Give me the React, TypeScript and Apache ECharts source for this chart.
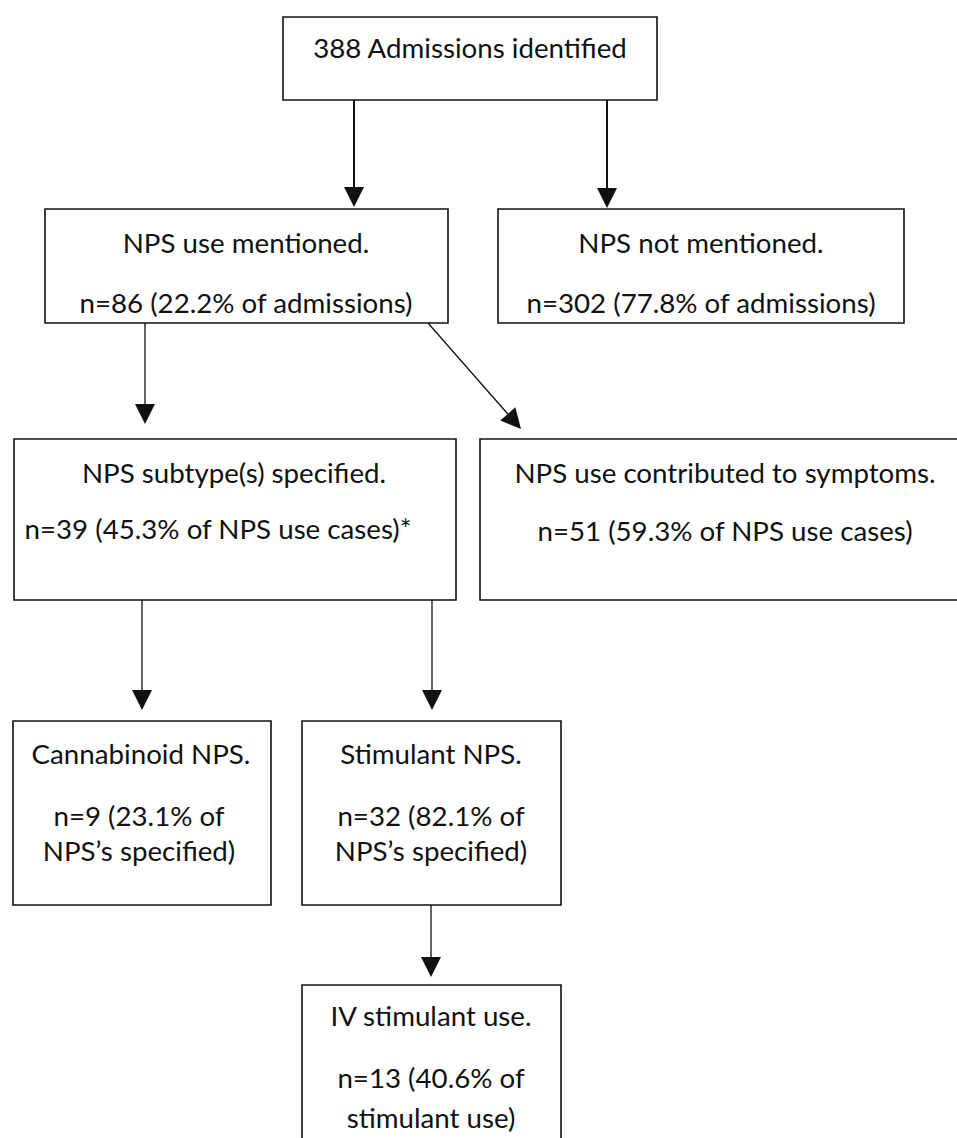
import React, { useEffect, useRef } from "react";
import * as echarts from "echarts";

// ---- content (data) ----
const nodeTitles = [
  "388 Admissions identified",
  "NPS use mentioned.",
  "NPS not mentioned.",
  "NPS subtype(s) specified.",
  "NPS use contributed to symptoms.",
  "Cannabinoid NPS.",
  "Stimulant NPS.",
  "IV stimulant use.",
];
const nodeCounts = [388, 86, 302, 39, 51, 9, 32, 13];
const nodePercents: (number | null)[] = [null, 22.2, 77.8, 45.3, 59.3, 23.1, 82.1, 40.6];
const percentBases = ["", "admissions", "admissions", "NPS use cases", "NPS use cases", "NPS\u2019s specified", "NPS\u2019s specified", "stimulant use"];
const footnoteMarks = ["", "", "", "*", "", "", "", ""];
const edgeSources = [0, 0, 1, 1, 3, 3, 6];
const edgeTargets = [1, 2, 3, 4, 5, 6, 7];

// ---- layout (positions / sizes / styles) ----
// box: [x0, y0, x1, y1]
const boxRects = [
  [283, 17, 657, 100],
  [45, 209, 448, 323],
  [498, 209, 904, 323],
  [14, 439, 456, 600],
  [480, 439, 970, 600],
  [13, 721, 271, 905],
  [302, 721, 561, 905],
  [302, 985, 561, 1160],
];
// text anchor per box: [centerX, titleY, line2Y, line3Y(or null), line2CenterX]
const textAnchors = [
  [470, 47, null, null, 470],
  [246, 242, 302, null, 246],
  [701, 242, 302, null, 701],
  [234, 472, 528, null, 218],
  [725, 472, 530, null, 725],
  [141, 753, 815, 850, 139],
  [431, 753, 815, 850, 431],
  [431, 1015, 1077, 1117, 431],
];
// edge: [x1, y1, xTip, yTip, lineWidth]
const edgeLayout = [
  [354, 100, 354, 207, 2],
  [607, 100, 607, 208, 2],
  [145, 323, 145, 424, 1.3],
  [428, 323, 521, 429, 1.3],
  [142, 600, 142, 710, 1.3],
  [432, 600, 432, 710, 1.3],
  [431, 905, 431, 977, 1.3],
];
const HEAD_LEN = 20;
const HEAD_HALF = 10;
const FONT = "Lato, 'Open Sans', sans-serif";
const FONT_SIZE = 27.7;
const INK = "#111";

function countLines(i: number): string[] {
  const p = nodePercents[i];
  if (p === null) return [];
  const full = `n=${nodeCounts[i]} (${p.toFixed(1)}% of ${percentBases[i]})${footnoteMarks[i]}`;
  if (textAnchors[i][3] !== null) {
    return [`n=${nodeCounts[i]} (${p.toFixed(1)}% of`, `${percentBases[i]})${footnoteMarks[i]}`];
  }
  return [full];
}

export default function App() {
  const ref = useRef<HTMLDivElement>(null);
  useEffect(() => {
    document.body.style.margin = "0";
    if (!ref.current) return;
    const chart = echarts.init(ref.current, undefined, { renderer: "svg" });

    const txt = (x: number, y: number, text: string) => ({
      type: "text",
      x,
      y,
      style: {
        text,
        fill: INK,
        fontSize: FONT_SIZE,
        fontFamily: FONT,
        align: "center",
        verticalAlign: "middle",
      },
    });

    chart.setOption({
      animation: false,
      backgroundColor: "#fff",
      grid: { left: 0, right: 0, top: 0, bottom: 0 },
      xAxis: { type: "value", min: 0, max: 957, show: false },
      yAxis: { type: "value", min: 0, max: 1138, inverse: true, show: false },
      series: [
        {
          type: "custom",
          name: "boxes",
          coordinateSystem: "cartesian2d",
          data: nodeTitles.map((_, i) => [i]),
          renderItem: (params: any, api: any) => {
            const i = params.dataIndex;
            const [x0, y0, x1, y1] = boxRects[i];
            const p0 = api.coord([x0, y0]);
            const p1 = api.coord([x1, y1]);
            const [cx, ty, l2y, l3y, c2x] = textAnchors[i] as any[];
            const children: any[] = [
              {
                type: "rect",
                shape: { x: p0[0], y: p0[1], width: p1[0] - p0[0], height: p1[1] - p0[1] },
                style: { fill: "#fff", stroke: INK, lineWidth: 1.6 },
              },
            ];
            const tp = api.coord([cx, ty]);
            children.push(txt(tp[0], tp[1], nodeTitles[i]));
            const lines = countLines(i);
            const ys = [l2y, l3y];
            lines.forEach((ln, k) => {
              const pp = api.coord([c2x, ys[k]]);
              children.push(txt(pp[0], pp[1], ln));
            });
            return { type: "group", children };
          },
        },
        {
          type: "custom",
          name: "edges",
          coordinateSystem: "cartesian2d",
          data: edgeSources.map((s, k) => [s, edgeTargets[k]]),
          renderItem: (params: any, api: any) => {
            const k = params.dataIndex;
            const [ax, ay, bx, by, lw] = edgeLayout[k];
            const a = api.coord([ax, ay]);
            const b = api.coord([bx, by]);
            const dx = b[0] - a[0];
            const dy = b[1] - a[1];
            const len = Math.sqrt(dx * dx + dy * dy);
            const ux = dx / len;
            const uy = dy / len;
            const base = [b[0] - ux * HEAD_LEN, b[1] - uy * HEAD_LEN];
            const px = -uy;
            const py = ux;
            return {
              type: "group",
              children: [
                {
                  type: "line",
                  shape: { x1: a[0], y1: a[1], x2: base[0], y2: base[1] },
                  style: { stroke: INK, lineWidth: lw },
                },
                {
                  type: "polygon",
                  shape: {
                    points: [
                      [b[0], b[1]],
                      [base[0] + px * HEAD_HALF, base[1] + py * HEAD_HALF],
                      [base[0] - px * HEAD_HALF, base[1] - py * HEAD_HALF],
                    ],
                  },
                  style: { fill: INK, stroke: "none" },
                },
              ],
            };
          },
        },
      ],
    });
    return () => chart.dispose();
  }, []);
  return <div ref={ref} style={{ width: 957, height: 1138 }} />;
}
